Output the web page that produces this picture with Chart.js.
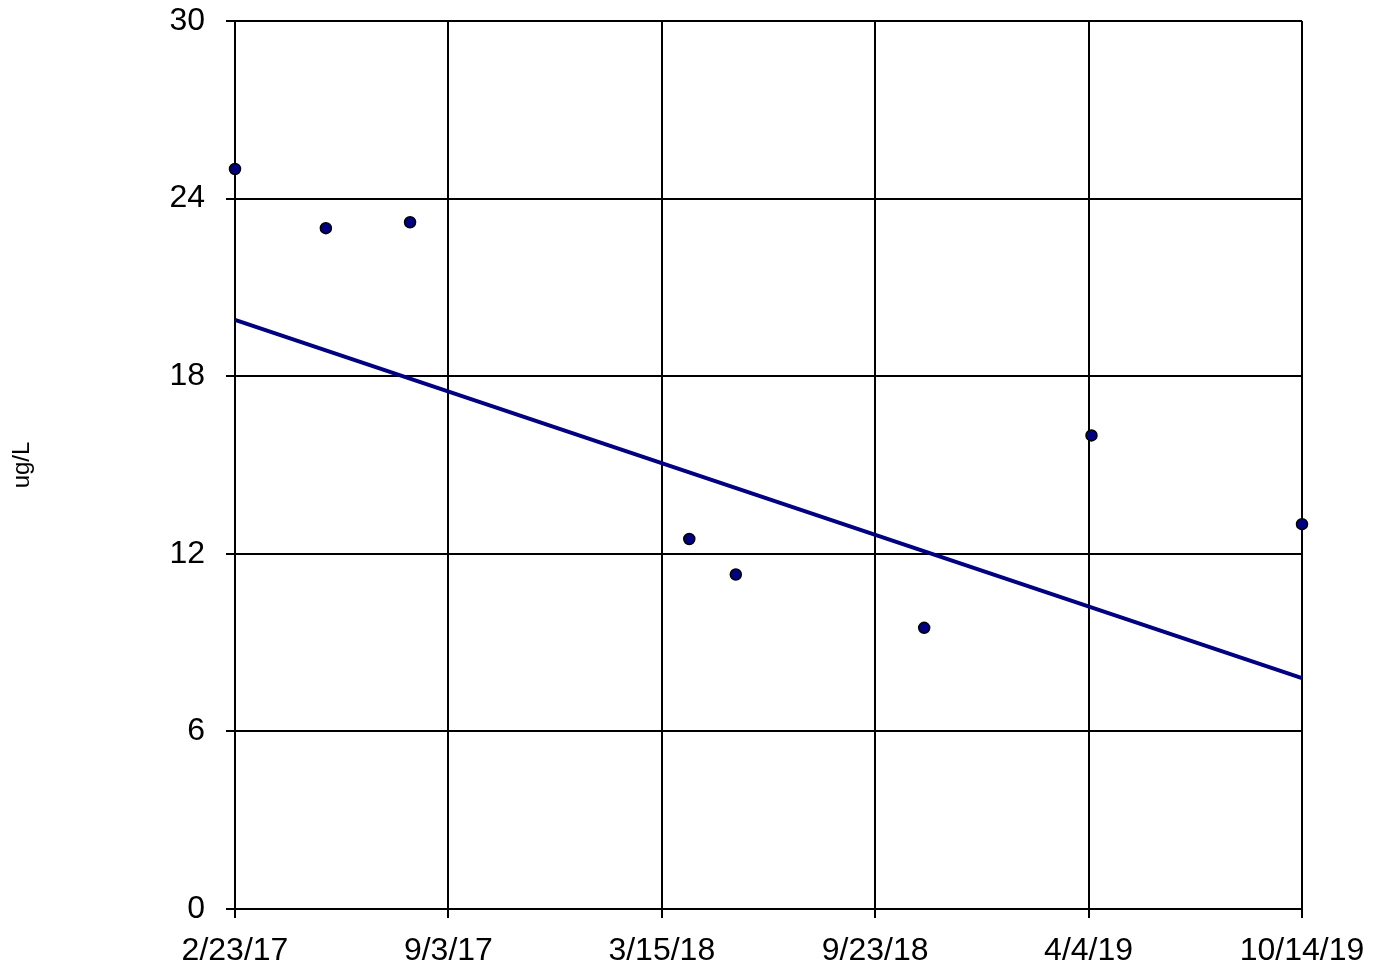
<!DOCTYPE html>
<html>
<head>
<meta charset="utf-8">
<script src="https://cdn.jsdelivr.net/npm/chart.js@4.4.1/dist/chart.umd.min.js"></script>
<style>
  html, body { margin: 0; padding: 0; background: #ffffff; }
  #wrap { width: 1376px; height: 971px; }
</style>
</head>
<body>
<div id="wrap"><canvas id="grafico" width="1376" height="971"></canvas></div>
<script>
// datos
const fechas = ['2017-02-23', '2017-05-16', '2017-07-31', '2018-04-09', '2018-05-21', '2018-11-07', '2019-04-07', '2019-10-14'];
const valores = [25.0, 23.0, 23.2, 12.5, 11.3, 9.5, 16.0, 13.0];
const tendencia = [19.9, 7.8]; // valor de la recta al inicio y al final
const fechaMin = '2017-02-23';
const fechaMax = '2019-10-14';
const etiquetasX = ['2/23/17', '9/3/17', '3/15/18', '9/23/18', '4/4/19', '10/14/19'];
const ticksY = [0, 6, 12, 18, 24, 30];

function dias(f) {
    // dias desde la fecha minima
    return (Date.parse(f) - Date.parse(fechaMin)) / 86400000;
}

const xMax = dias(fechaMax);
const puntos = fechas.map((f, i) => ({ x: dias(f), y: valores[i] }));
const linea = [{ x: 0, y: tendencia[0] }, { x: xMax, y: tendencia[1] }];

const familia = "'Liberation Sans', Arial, sans-serif";
const fuente = { family: familia, size: 32 };

const ctx = document.getElementById('grafico').getContext('2d');
new Chart(ctx, {
    type: 'scatter',
    data: {
        datasets: [
            {
                type: 'line',
                data: linea,
                borderColor: '#000080',
                borderWidth: 4,
                pointRadius: 0,
                fill: false,
                clip: false,
                order: 2
            },
            {
                data: puntos,
                backgroundColor: '#000080',
                borderColor: '#000000',
                borderWidth: 1.5,
                pointRadius: 5.5,
                clip: false,
                order: 1
            }
        ]
    },
    options: {
        responsive: false,
        animation: false,
        layout: { padding: { top: 21, right: 74, left: 0, bottom: 0 } },
        plugins: { legend: { display: false }, tooltip: { enabled: false } },
        scales: {
            x: {
                type: 'linear',
                min: 0,
                max: xMax,
                afterBuildTicks: (eje) => {
                    eje.ticks = etiquetasX.map((_, i) => ({ value: xMax * i / (etiquetasX.length - 1) }));
                },
                afterFit: (eje) => {
                    eje.height = 62;
                    eje.paddingLeft = 0;
                    eje.paddingRight = 0;
                },
                ticks: {
                    color: '#000',
                    font: fuente,
                    padding: 14,
                    maxRotation: 0,
                    autoSkip: false,
                    callback: (v, i) => etiquetasX[i]
                },
                grid: { color: '#000', lineWidth: 2, tickLength: 9 },
                border: { color: '#000', width: 2 }
            },
            y: {
                min: 0,
                max: 30,
                afterBuildTicks: (eje) => {
                    eje.ticks = ticksY.map(v => ({ value: v }));
                },
                afterFit: (eje) => {
                    eje.width = 235;
                    eje.paddingTop = 0;
                    eje.paddingBottom = 0;
                },
                ticks: { color: '#000', font: fuente, padding: 21 },
                grid: { color: '#000', lineWidth: 2, tickLength: 9 },
                border: { color: '#000', width: 2 },
                title: {
                    display: true,
                    text: 'ug/L',
                    color: '#000',
                    font: { family: familia, size: 24 },
                    padding: { top: 8, bottom: 0 }
                }
            }
        }
    }
});
</script>
</body>
</html>
